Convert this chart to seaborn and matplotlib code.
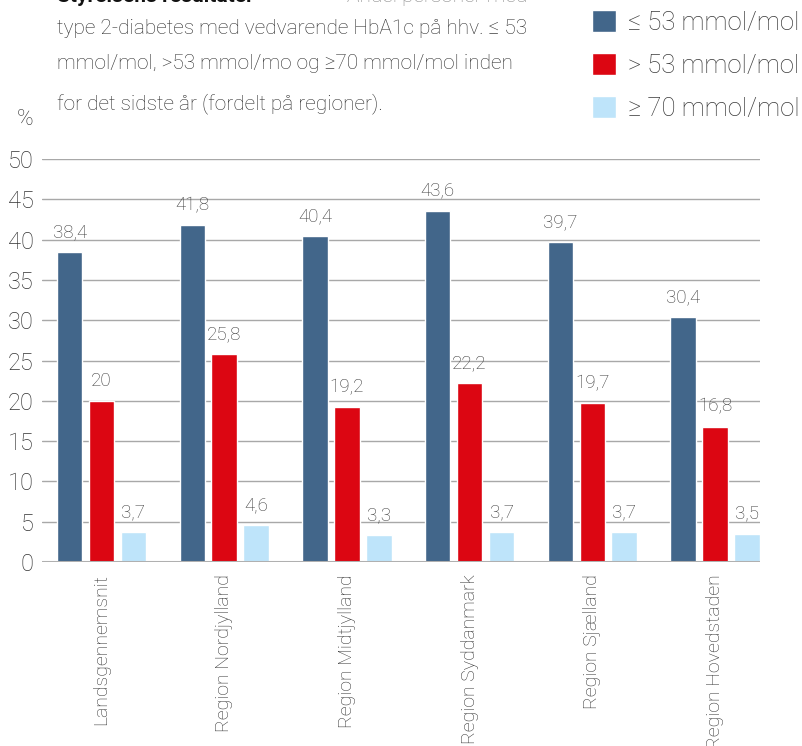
import matplotlib
matplotlib.use("Agg")
import matplotlib.pyplot as plt
import seaborn as sns
import pandas as pd

# Share of people with type 2 diabetes by HbA1c level, per region (%)
regions = ["Landsgennemsnit", "Region Nordjylland", "Region Midtjylland",
           "Region Syddanmark", "Region Sjælland", "Region Hovedstaden"]
series_names = ["≤ 53 mmol/mol", "> 53 mmol/mol", "≥ 70 mmol/mol"]
le_53 = [38.4, 41.8, 40.4, 43.6, 39.7, 30.4]
gt_53 = [20.0, 25.8, 19.2, 22.2, 19.7, 16.8]
ge_70 = [3.7, 4.6, 3.3, 3.7, 3.7, 3.5]
y_ticks = [0, 5, 10, 15, 20, 25, 30, 35, 40, 45, 50]

colors = ["#42668A", "#DC0612", "#BEE4FA"]
text_dark = "#333333"

sns.set_theme(style="white")
plt.rcParams["font.family"] = ["Roboto", "DejaVu Sans"]

rows = []
for name, vals in zip(series_names, [le_53, gt_53, ge_70]):
    for reg, v in zip(regions, vals):
        rows.append({"region": reg, "serie": name, "value": v})
df = pd.DataFrame(rows)

fig = plt.figure(figsize=(8.03, 7.46), dpi=100)
ax = fig.add_axes([0.0523, 0.2466, 0.8942, 0.5403])

sns.barplot(data=df, x="region", y="value", hue="serie", order=regions,
            hue_order=series_names, palette=colors, width=0.78, gap=0.2,
            saturation=1, ax=ax)

# value labels, Danish decimal comma
for cont, vals in zip(ax.containers, [le_53, gt_53, ge_70]):
    labels = [f"{v:g}".replace(".", ",") for v in vals]
    ax.bar_label(cont, labels=labels, padding=8, fontsize=13.5,
                 color="#3a3a3a", fontweight="light")

ax.set_ylim(0, 50)
ax.set_xlim(-0.485, 5.367)
ax.set_yticks(y_ticks)
ax.set_yticklabels([str(t) for t in y_ticks], fontsize=17, color=text_dark,
                   fontweight="light")
ax.set_xticks(range(len(regions)))
ax.set_xticklabels(regions, rotation=90, fontsize=14, color=text_dark,
                   fontweight="light", va="top", ha="center")
ax.tick_params(axis="both", length=0)
ax.tick_params(axis="y", pad=6)
ax.tick_params(axis="x", pad=9)
ax.set_xlabel("")
ax.set_ylabel("")
for s in ax.spines.values():
    s.set_visible(False)
ax.grid(axis="y", color="#a8a8a8", linewidth=1.0)
ax.set_axisbelow(True)
ax.axhline(0, color="#b0b0b0", linewidth=2.2, zorder=5)

# legend in the top right corner
handles, labels = ax.get_legend_handles_labels()
ax.get_legend().remove()
fig.legend(handles, labels, loc="upper left", bbox_to_anchor=(0.7248, 1.0),
           frameon=False, handlelength=0.94, handleheight=0.94,
           handletextpad=0.45, labelspacing=0.7, borderaxespad=0.0,
           labelcolor="#3a3a3a", prop={"size": 18.5, "weight": "light"})

# heading text
fig.text(0.071, 0.997, "Styrelsens resultater", fontsize=15, fontweight="bold",
         color="#111111", va="baseline", ha="left")
fig.text(0.656, 0.997, "Andel personer med", fontsize=15, color="#888888",
         fontweight="light", va="baseline", ha="right")
body = ["type 2-diabetes med vedvarende HbA1c på hhv. ≤ 53",
        "mmol/mol, >53 mmol/mo og ≥70 mmol/mol inden",
        "for det sidste år (fordelt på regioner)."]
for line, ypx in zip(body, [34, 69, 109]):
    fig.text(0.071, 1 - ypx / 746, line, fontsize=15, color="#2e2e2e",
             fontweight="light", va="baseline", ha="left")
fig.text(0.021, 1 - 125 / 746, "%", fontsize=16, color=text_dark,
         fontweight="light", va="baseline", ha="left")

fig.savefig("out.png", dpi=100)
